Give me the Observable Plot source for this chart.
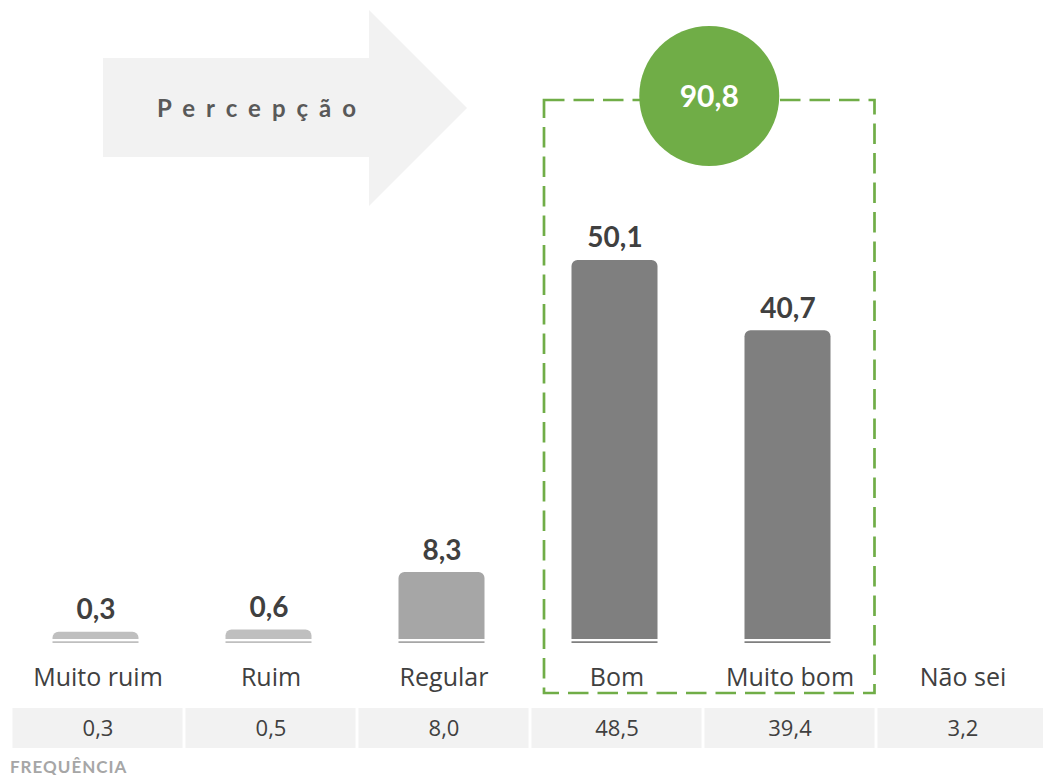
<!DOCTYPE html>
<html><head><meta charset="utf-8">
<script src="https://cdn.jsdelivr.net/npm/d3@7"></script>
<script src="https://cdn.jsdelivr.net/npm/@observablehq/plot@0.6"></script>
<style>
html,body{margin:0;padding:0;background:#fff;}
#wrap{width:1043px;overflow:hidden;font-family:Lato, sans-serif;}
#wrap svg{display:block;}
#freq{padding-left:10px;font-weight:700;font-size:17px;letter-spacing:1px;line-height:20px;margin-top:7px;color:#a6a6a6;font-family:Lato, sans-serif;}
</style></head><body>
<div id="wrap"></div>
<script>
// ---- data ----
const categories = ["Muito ruim", "Ruim", "Regular", "Bom", "Muito bom", "Não sei"];
const perceptionCats = ["Muito ruim", "Ruim", "Regular", "Bom", "Muito bom"];
const perceptionValues = [0.3, 0.6, 8.3, 50.1, 40.7];
const barColors = ["#bfbfbf", "#bfbfbf", "#a6a6a6", "#7f7f7f", "#7f7f7f"];
const frequencyValues = [0.3, 0.5, 8.0, 48.5, 39.4, 3.2];
const positiveCats = ["Bom", "Muito bom"];
const positiveTotal = 90.8;
const arrowLabel = "Percepção";
const tableLabel = "FREQUÊNCIA";

const fmt = v => v.toFixed(1).replace(".", ",");
const bars = perceptionCats.map((c, i) => ({cat: c, value: perceptionValues[i], color: barColors[i]}));
const rows = categories.map((c, i) => ({cat: c, freq: frequencyValues[i]}));

const W = 1043;
const step = 173.8;
const xRange = [8.5, 8.5 + categories.length * step];
const baseY = 639, pxPerUnit = 7.465;
const barDx = -2;

const main = Plot.plot({
  width: W, height: 700,
  marginTop: 0, marginBottom: 61, marginLeft: 0, marginRight: 0,
  x: {domain: categories, range: xRange, padding: 0, axis: null},
  y: {domain: [0, 60], range: [baseY, baseY - 60 * pxPerUnit], axis: null},
  color: {type: "identity"},
  style: {fontFamily: "Lato, sans-serif", background: "transparent", overflow: "visible"},
  marks: [
    Plot.barY(bars, {x: "cat", y: "value", fill: "color", dx: barDx, insetLeft: 43.5, insetRight: 43.5, insetTop: -5, rx1y1: 6, rx2y1: 6}),
    Plot.tickY(bars, {x: "cat", y: 0, stroke: "color", strokeWidth: 1.6, dx: barDx, dy: 2.6, insetLeft: 43.5, insetRight: 43.5}),
    Plot.text(bars, {x: "cat", y: "value", text: d => fmt(d.value), dx: barDx, dy: -27, fontSize: 28, fontWeight: 700, fill: "#404040"}),
    Plot.axisX({tickSize: 0, tickPadding: 29, fontSize: 25, fontFamily: "'Open Sans', sans-serif", color: "#404040", label: null})
  ]
});

const table = Plot.plot({
  width: W, height: 50,
  marginTop: 8, marginBottom: 2, marginLeft: 0, marginRight: 0,
  x: {domain: categories, range: xRange, padding: 0, axis: null},
  style: {fontFamily: "'Open Sans', sans-serif", background: "transparent"},
  marks: [
    Plot.cell(rows, {x: "cat", fill: "#f2f2f2", insetLeft: 1.5, insetRight: 1.5}),
    Plot.text(rows, {x: "cat", text: d => fmt(d.freq), fontSize: 22, fill: "#404040", frameAnchor: "middle"})
  ]
});

// ---- decorations using the plot's scales ----
const sx = main.scale("x");
const bw = sx.bandwidth;
const svg = d3.select(main);
const g = svg.append("g");
// arrow
g.append("path")
  .attr("d", "M103,58 L369,58 L369,10 L467,108 L369,206 L369,157 L103,157 Z")
  .attr("fill", "#f2f2f2");
g.append("text")
  .attr("x", 157).attr("y", 109).attr("dy", "0.35em")
  .attr("text-anchor", "start")
  .attr("font-size", 24).attr("font-weight", 700)
  .attr("letter-spacing", "11px").attr("fill", "#595959")
  .text(arrowLabel);
// dashed box around positive categories
const bx1 = sx.apply(positiveCats[0]) + 14;
const bx2 = sx.apply(positiveCats[1]) + bw - 1.5;
g.append("rect")
  .attr("x", bx1).attr("y", 100).attr("width", bx2 - bx1).attr("height", 593)
  .attr("fill", "none").attr("stroke", "#70ad47").attr("stroke-width", 2.7)
  .attr("stroke-dasharray", "20.5,9");
g.append("circle")
  .attr("cx", (bx1 + bx2) / 2).attr("cy", 96).attr("r", 70).attr("fill", "#70ad47");
g.append("text")
  .attr("x", (bx1 + bx2) / 2).attr("y", 96).attr("dy", "0.35em").attr("text-anchor", "middle")
  .attr("font-size", 30).attr("font-weight", 700).attr("fill", "#fff")
  .text(fmt(positiveTotal));

const wrap = document.getElementById("wrap");
wrap.appendChild(main);
wrap.appendChild(table);
const f = document.createElement("div");
f.id = "freq";
f.textContent = tableLabel;
wrap.appendChild(f);
</script>
</body></html>
